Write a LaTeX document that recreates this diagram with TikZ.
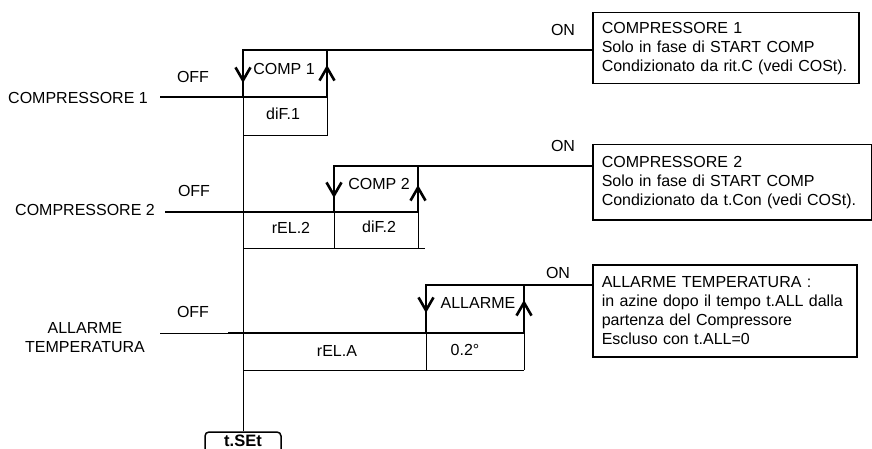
\documentclass[tikz,border=0pt]{standalone}
\usepackage{fontspec}
\setmainfont{Liberation Sans}
\usetikzlibrary{arrows.meta}
\begin{document}
\begin{tikzpicture}[x=1pt,y=-1pt,
  sig/.style={line width=2.5pt},
  guide/.style={line width=0.9pt},
  lbl/.style={inner sep=0pt, font=\fontsize{16}{19}\selectfont},
  info/.style={draw, line width=1.5pt, anchor=north west, align=left, inner xsep=9pt, inner ysep=0pt, font=\fontsize{16}{19}\selectfont},
  barb/.style={sig, -{Straight Barb[length=13pt,width=15pt,line width=2.6pt]}},
  setbox/.style={draw, line width=1.5pt, rounded corners=4pt, minimum width=76pt, minimum height=24pt, inner sep=0pt, font=\fontsize{16.5}{19}\selectfont\bfseries}
]
\useasboundingbox (0,0) rectangle (872,449);

% ---------- info boxes
\node[info, minimum width=266pt, minimum height=71pt, text width=248pt] (b1) at (592,12)
  {COMPRESSORE 1\\Solo in fase di START COMP\\Condizionato da rit.C (vedi COSt).};
\node[info, minimum width=279pt, minimum height=75pt, text width=261pt] (b2) at (592,144)
  {COMPRESSORE 2\\Solo in fase di START COMP\\Condizionato da t.Con (vedi COSt).};
\node[info, minimum width=264pt, minimum height=92pt, text width=246pt] (b3) at (592,264)
  {ALLARME TEMPERATURA :\\in azine dopo il tempo t.ALL dalla\\partenza del Compressore\\Escluso con t.ALL=0};

% ---------- t.SEt
\node[setbox] (tset) at (243,444) {};
\node[inner sep=0pt, font=\fontsize{16.5}{19}\selectfont\bfseries] (tsettext) at (243,441) {t.SEt};

% ---------- COMPRESSORE 1
\coordinate (a1) at (160,97);
\coordinate (a2) at (243,97);
\coordinate (a3) at (243,50);
\coordinate (a4) at (327,97);
\coordinate (a5) at (327,50);
\coordinate (g1) at (327,135);
\coordinate (g2) at (243,135);
\draw[guide] (a2) -- (tset.north);
\draw[guide] (a4) -- (g1) -- (g2);
\draw[sig] (a1) -- (a4) -- (a5);
\draw[sig] (a2) -- (a3) -- (a3 -| b1.west);
\draw[barb] (a3) -- ++(0,33);
\draw[barb] (a4) -- ++(0,-32);
\node[lbl] (n1) at (78,98) {COMPRESSORE 1};
\node[lbl] (off1) at (193,77) {OFF};
\node[lbl] (on1) at (563,30) {ON};
\node[lbl] (cp1) at (284,69) {COMP 1};
\node[lbl] (df1) at (283,114) {diF.1};

% ---------- COMPRESSORE 2
\coordinate (c1) at (165,212);
\coordinate (c2) at (334,212);
\coordinate (c3) at (334,166);
\coordinate (c4) at (418,212);
\coordinate (c5) at (418,166);
\coordinate (h1) at (334,248);
\coordinate (h2) at (418,248);
\coordinate (h3) at (243,248);
\coordinate (h4) at (425,248);
\draw[guide] (c2) -- (h1);
\draw[guide] (c4) -- (h2);
\draw[guide] (h3) -- (h4);
\draw[sig] (c1) -- (c4) -- (c5);
\draw[sig] (c2) -- (c3) -- (c3 -| b2.west);
\draw[barb] (c3) -- ++(0,32);
\draw[barb] (c4) -- ++(0,-27);
\node[lbl] (n2) at (85,210) {COMPRESSORE 2};
\node[lbl] (off2) at (194,191) {OFF};
\node[lbl] (on2) at (563,146) {ON};
\node[lbl] (cp2) at (379,184) {COMP 2};
\node[lbl] (rl2) at (291,228) {rEL.2};
\node[lbl] (df2) at (379,227) {diF.2};

% ---------- ALLARME TEMPERATURA
\coordinate (d0) at (160,333);
\coordinate (d1) at (228,333);
\coordinate (d2) at (426,333);
\coordinate (d3) at (426,285);
\coordinate (d4) at (524,333);
\coordinate (d5) at (524,285);
\coordinate (k1) at (426,370);
\coordinate (k2) at (524,370);
\coordinate (k3) at (243,370);
\draw[guide] (d0) -- (d1);
\draw[guide] (d2) -- (k1);
\draw[guide] (d4) -- (k2);
\draw[guide] (k3) -- (k2);
\draw[sig] (d1) -- (d4) -- (d5);
\draw[sig] (d2) -- (d3) -- (d3 -| b3.west);
\draw[barb] (d3) -- ++(0,28);
\draw[barb] (d4) -- ++(0,-33);
\node[lbl, align=center] (n3) at (85,338) {ALLARME\\TEMPERATURA};
\node[lbl] (off3) at (193,312) {OFF};
\node[lbl] (on3) at (558,273) {ON};
\node[lbl] (al) at (478,303) {ALLARME};
\node[lbl] (rla) at (337,351) {rEL.A};
\node[lbl] (tmp) at (465,350) {0.2°};
\end{tikzpicture}
\end{document}
